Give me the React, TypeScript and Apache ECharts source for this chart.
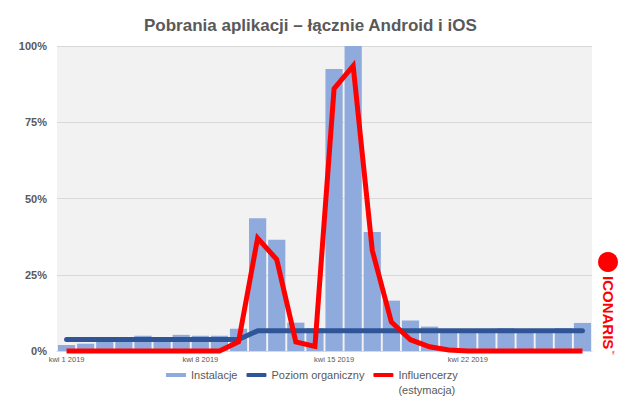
import React, { useEffect, useRef } from 'react';
import * as echarts from 'echarts';

const categories = [
  'kwi 1 2019', 'kwi 2 2019', 'kwi 3 2019', 'kwi 4 2019', 'kwi 5 2019', 'kwi 6 2019', 'kwi 7 2019',
  'kwi 8 2019', 'kwi 9 2019', 'kwi 10 2019', 'kwi 11 2019', 'kwi 12 2019', 'kwi 13 2019', 'kwi 14 2019',
  'kwi 15 2019', 'kwi 16 2019', 'kwi 17 2019', 'kwi 18 2019', 'kwi 19 2019', 'kwi 20 2019', 'kwi 21 2019',
  'kwi 22 2019', 'kwi 23 2019', 'kwi 24 2019', 'kwi 25 2019', 'kwi 26 2019', 'kwi 27 2019', 'kwi 28 2019',
];

const installs = [
  0.02, 0.024, 0.03, 0.04, 0.05, 0.04, 0.053,
  0.05, 0.05, 0.073, 0.435, 0.365, 0.093, 0.075,
  0.925, 1.0, 0.39, 0.165, 0.1, 0.08, 0.065,
  0.065, 0.065, 0.075, 0.065, 0.065, 0.075, 0.092,
];

const organic = [
  0.038, 0.038, 0.038, 0.038, 0.038, 0.038, 0.038,
  0.038, 0.038, 0.038, 0.066, 0.066, 0.066, 0.066,
  0.066, 0.066, 0.066, 0.066, 0.066, 0.066, 0.066,
  0.066, 0.066, 0.066, 0.066, 0.066, 0.066, 0.066,
];

const influencers = [
  0, 0, 0, 0, 0, 0, 0,
  0, 0, 0.03, 0.37, 0.3, 0.03, 0.015,
  0.86, 0.935, 0.33, 0.095, 0.037, 0.014, 0.003,
  0, 0, 0, 0, 0, 0, 0,
];

const yTicks = [0, 0.25, 0.5, 0.75, 1];
const xLabelEvery = 7;

const FONT = '"Liberation Sans", Arial, sans-serif';
const TEXT = '#595959';

export default function App() {
  const ref = useRef<HTMLDivElement>(null);
  useEffect(() => {
    document.body.style.margin = '0';
    const chart = echarts.init(ref.current!, null, { renderer: 'svg' });
    chart.setOption({
      animation: false,
      backgroundColor: '#ffffff',
      textStyle: { fontFamily: FONT },
      title: {
        text: 'Pobrania aplikacji – łącznie Android i iOS',
        left: 144,
        top: 17,
        padding: 0,
        textStyle: { fontFamily: FONT, fontSize: 17, fontWeight: 'bold', color: TEXT },
      },
      grid: {
        left: 57,
        right: 45,
        top: 46,
        bottom: 48,
        show: true,
        backgroundColor: '#f2f2f2',
        borderWidth: 0,
      },
      legend: {
        left: 166,
        top: 369.5,
        padding: 0,
        itemWidth: 20,
        itemHeight: 4,
        itemGap: 9,
        itemStyle: { borderWidth: 0 },
        textStyle: { fontFamily: FONT, fontSize: 11, color: TEXT },
        formatter: (name: string) => (name.indexOf('\n') >= 0 ? '{r|' + name + '}' : name),
        data: [
          { name: 'Instalacje', icon: 'rect' },
          { name: 'Poziom organiczny', icon: 'roundRect' },
          {
            name: 'Influencerzy\n(estymacja)',
            icon: 'roundRect',
            textStyle: {
              padding: [15, 0, 0, 0],
              rich: {
                r: { fontFamily: FONT, fontSize: 11, color: TEXT, lineHeight: 15 },
              },
            },
          },
        ],
      },
      xAxis: {
        type: 'category',
        data: categories,
        boundaryGap: true,
        axisLine: { show: true, lineStyle: { color: '#d9d9d9', width: 1 } },
        axisTick: { show: false },
        axisLabel: {
          interval: (i: number) => i % xLabelEvery === 0,
          fontSize: 7.5,
          color: TEXT,
          margin: 4,
          fontFamily: FONT,
        },
        splitLine: { show: false },
      },
      yAxis: {
        type: 'value',
        min: yTicks[0],
        max: yTicks[yTicks.length - 1],
        interval: 0.25,
        axisLine: { show: false },
        axisTick: { show: false },
        axisLabel: {
          formatter: (v: number) => Math.round(v * 100) + '%',
          fontSize: 11,
          fontWeight: 'bold',
          color: TEXT,
          margin: 10,
          fontFamily: FONT,
        },
        splitLine: { show: true, lineStyle: { color: '#d9d9d9', width: 1 } },
      },
      series: [
        {
          name: 'Instalacje',
          type: 'bar',
          data: installs,
          barCategoryGap: '10%',
          itemStyle: { color: '#8faadc' },
        },
        {
          name: 'Poziom organiczny',
          type: 'line',
          data: organic,
          symbol: 'none',
          showSymbol: false,
          clip: false,
          itemStyle: { color: '#2f5597' },
          lineStyle: { color: '#2f5597', width: 5, cap: 'round', join: 'round' },
        },
        {
          name: 'Influencerzy\n(estymacja)',
          type: 'line',
          data: influencers,
          symbol: 'none',
          showSymbol: false,
          clip: false,
          itemStyle: { color: '#ff0000' },
          lineStyle: { color: '#ff0000', width: 5, cap: 'butt', join: 'miter' },
        },
      ],
      graphic: [
        {
          type: 'circle',
          shape: { cx: 608, cy: 262, r: 10 },
          style: { fill: '#ff0000' },
        },
        {
          type: 'text',
          x: 608.5,
          y: 276,
          rotation: -Math.PI / 2,
          style: {
            text: 'ICONARIS',
            fontFamily: FONT,
            fontSize: 15,
            fontWeight: 'bold',
            fill: '#ff0000',
            align: 'left',
            verticalAlign: 'middle',
          },
        },
        {
          type: 'text',
          x: 613,
          y: 350,
          rotation: -Math.PI / 2,
          style: {
            text: '™',
            fontFamily: FONT,
            fontSize: 5,
            fill: '#ff0000',
            align: 'left',
            verticalAlign: 'middle',
          },
        },
      ],
    });
    return () => chart.dispose();
  }, []);
  return <div ref={ref} style={{ width: 637, height: 399 }} />;
}
